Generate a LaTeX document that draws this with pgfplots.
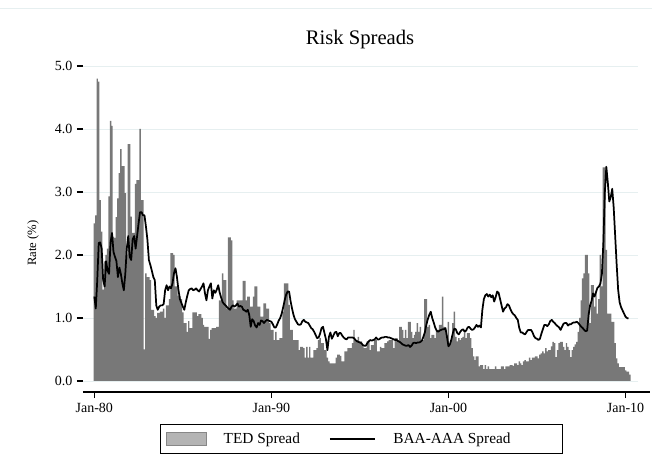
\documentclass[border=0pt]{standalone}
\usepackage{fontspec}
\setmainfont{Liberation Serif}
\usepackage{pgfplots}
\pgfplotsset{compat=1.18}
\definecolor{barcol}{RGB}{120,120,120}
\definecolor{gridcol}{RGB}{230,239,240}
\definecolor{legfill}{RGB}{180,180,180}
\definecolor{legdraw}{RGB}{135,135,135}
\begin{document}
\begin{tikzpicture}[x=1pt,y=1pt]
\useasboundingbox (0,0) rectangle (489,345);
\draw[gridcol, line width=0.6pt] (0,339) -- (489,339);
\node[font=\fontsize{15.5}{18}\selectfont] at (270,315) {Risk Spreads};
\node[rotate=90, font=\fontsize{9.5}{11}\selectfont] at (24.75,162.75) {Rate (\%)};
\begin{axis}[
  at={(62.25pt,51pt)}, anchor=south west,
  scale only axis, width=425.25pt, height=244.5pt,
  xmin=-7.66, xmax=376.6, ymin=-0.175, ymax=5,
  axis x line*=bottom, axis y line*=left,
  axis line style={-},
  y axis line style={draw=none},
  x axis line style={black, line width=0.8pt},
  tick align=outside, major tick length=4.5pt,
  tick style={black, line width=0.8pt},
  xtick={0,120,240,360}, xticklabels={Jan-80,Jan-90,Jan-00,Jan-10},
  ytick={0,1,2,3,4,5},
  yticklabel style={/pgf/number format/fixed, /pgf/number format/fixed zerofill, /pgf/number format/precision=1},
  /pgf/number format/assume math mode=true,
  ticklabel style={font=\fontsize{10.5}{12}\selectfont},
  legend style={at={(0.4912,-0.1442)}, anchor=center, draw=black, line width=0.6pt,
    inner ysep=4pt, inner xsep=4pt,
    font=\fontsize{11.5}{13}\selectfont, legend columns=2,
    /tikz/every even column/.append style={column sep=18pt}},
]
\addplot[gridcol, line width=0.7pt, forget plot] coordinates {(-7.66,0) (368.5,0)};
\addplot[gridcol, line width=0.7pt, forget plot] coordinates {(-7.66,1) (368.5,1)};
\addplot[gridcol, line width=0.7pt, forget plot] coordinates {(-7.66,2) (368.5,2)};
\addplot[gridcol, line width=0.7pt, forget plot] coordinates {(-7.66,3) (368.5,3)};
\addplot[gridcol, line width=0.7pt, forget plot] coordinates {(-7.66,4) (368.5,4)};
\addplot[gridcol, line width=0.7pt, forget plot] coordinates {(-7.66,5) (368.5,5)};
% TED spread (monthly bars)
\addplot[ybar, bar width=1, fill=barcol, draw=none,
  legend image code/.code={\draw[fill=legfill, draw=legdraw, line width=0.6pt] (0pt,-5pt) rectangle (30pt,5pt);}]
coordinates {
(0,2.5)(1,2.63)(2,4.8)(3,4.75)(4,2.87)(5,2.37)(6,1.45)(7,1.9)(8,2.0)(9,2.1)
(10,2.93)(11,4.13)(12,4.05)(13,2.29)(14,2.27)(15,2.6)(16,2.9)(17,3.3)(18,3.68)(19,3.41)
(20,3.41)(21,2.98)(22,2.0)(23,3.76)(24,3.76)(25,2.61)(26,2.35)(27,2.35)(28,3.13)(29,3.19)
(30,3.19)(31,4.0)(32,2.87)(33,2.87)(34,0.5)(35,1.71)(36,1.65)(37,1.65)(38,1.6)(39,1.13)
(40,1.13)(41,1.03)(42,1.0)(43,1.08)(44,1.08)(45,1.1)(46,1.1)(47,1.15)(48,1.0)(49,1.2)
(50,1.2)(51,1.3)(52,2.03)(53,2.03)(54,2.0)(55,1.5)(56,1.5)(57,1.35)(58,1.35)(59,1.3)
(60,1.09)(61,0.92)(62,0.92)(63,0.78)(64,0.95)(65,0.84)(66,0.84)(67,1.09)(68,1.09)(69,1.09)
(70,1.03)(71,1.06)(72,1.06)(73,1.0)(74,0.89)(75,0.86)(76,0.86)(77,0.86)(78,0.67)(79,0.81)
(80,0.84)(81,0.84)(82,0.84)(83,0.86)(84,0.86)(85,1.28)(86,1.28)(87,1.71)(88,1.6)(89,1.6)
(90,1.15)(91,2.28)(92,2.28)(93,2.23)(94,1.28)(95,1.15)(96,1.15)(97,1.28)(98,1.28)(99,1.28)
(100,1.28)(101,1.59)(102,1.59)(103,1.28)(104,1.34)(105,1.34)(106,1.18)(107,1.18)(108,1.34)(109,1.5)
(110,1.5)(111,1.18)(112,1.18)(113,1.02)(114,1.02)(115,1.23)(116,1.23)(117,1.15)(118,1.15)(119,0.92)
(120,0.81)(121,0.81)(122,0.65)(123,0.78)(124,0.65)(125,0.65)(126,0.68)(127,0.68)(128,1.1)(129,1.55)
(130,1.55)(131,1.55)(132,1.21)(133,0.81)(134,0.81)(135,0.65)(136,0.65)(137,0.65)(138,0.65)(139,0.49)
(140,0.54)(141,0.54)(142,0.52)(143,0.37)(144,0.54)(145,0.37)(146,0.54)(147,0.37)(148,0.37)(149,0.49)
(150,0.49)(151,0.52)(152,0.65)(153,0.68)(154,0.6)(155,0.6)(156,0.49)(157,0.49)(158,0.37)(159,0.31)
(160,0.28)(161,0.28)(162,0.28)(163,0.28)(164,0.37)(165,0.42)(166,0.42)(167,0.40)(168,0.31)(169,0.31)
(170,0.47)(171,0.47)(172,0.52)(173,0.52)(174,0.52)(175,0.6)(176,0.81)(177,0.65)(178,0.65)(179,0.7)
(180,0.63)(181,0.63)(182,0.57)(183,0.52)(184,0.52)(185,0.63)(186,0.63)(187,0.49)(188,0.57)(189,0.57)
(190,0.65)(191,0.65)(192,0.47)(193,0.47)(194,0.54)(195,0.52)(196,0.52)(197,0.6)(198,0.6)(199,0.63)
(200,0.65)(201,0.65)(202,0.65)(203,0.52)(204,0.68)(205,0.68)(206,0.65)(207,0.86)(208,0.86)(209,0.81)
(210,0.68)(211,0.81)(212,0.68)(213,0.94)(214,0.94)(215,0.78)(216,0.68)(217,0.73)(218,0.78)(219,0.92)
(220,0.78)(221,0.86)(222,0.65)(223,0.65)(224,1.3)(225,1.3)(226,0.86)(227,0.89)(228,0.68)(229,0.73)
(230,0.73)(231,0.68)(232,0.81)(233,0.81)(234,0.89)(235,0.89)(236,1.34)(237,0.86)(238,0.81)(239,0.73)
(240,0.94)(241,0.57)(242,0.65)(243,0.92)(244,1.1)(245,0.7)(246,0.63)(247,0.68)(248,0.65)(249,0.68)
(250,0.7)(251,0.76)(252,0.68)(253,0.76)(254,0.76)(255,0.68)(256,0.52)(257,0.39)(258,0.33)(259,0.39)
(260,0.39)(261,0.23)(262,0.25)(263,0.25)(264,0.19)(265,0.25)(266,0.19)(267,0.23)(268,0.19)(269,0.19)
(270,0.19)(271,0.19)(272,0.23)(273,0.19)(274,0.19)(275,0.19)(276,0.23)(277,0.23)(278,0.19)(279,0.23)
(280,0.23)(281,0.23)(282,0.25)(283,0.25)(284,0.24)(285,0.28)(286,0.28)(287,0.25)(288,0.31)(289,0.28)
(290,0.25)(291,0.31)(292,0.33)(293,0.31)(294,0.31)(295,0.37)(296,0.33)(297,0.37)(298,0.37)(299,0.39)
(300,0.39)(301,0.36)(302,0.42)(303,0.44)(304,0.47)(305,0.44)(306,0.52)(307,0.47)(308,0.49)(309,0.49)
(310,0.55)(311,0.62)(312,0.6)(313,0.38)(314,0.49)(315,0.6)(316,0.62)(317,0.62)(318,0.54)(319,0.49)
(320,0.6)(321,0.54)(322,0.49)(323,0.38)(324,0.49)(325,0.54)(326,0.58)(327,0.62)(328,0.78)(329,1.0)
(330,1.28)(331,1.63)(332,1.71)(333,2.0)(334,2.0)(335,1.71)(336,0.92)(337,1.52)(338,1.52)(339,1.18)
(340,1.42)(341,1.07)(342,1.3)(343,2.0)(344,1.5)(345,3.39)(346,3.39)(347,2.08)(348,1.07)(349,1.07)
(350,1.07)(351,0.94)(352,0.94)(353,0.6)(354,0.36)(355,0.28)(356,0.22)(357,0.22)(358,0.22)(359,0.22)
(360,0.17)(361,0.15)(362,0.15)(363,0.1)
};
\addlegendentry{\makebox[70pt][l]{\hspace{11pt}TED Spread}}
% BAA-AAA spread (monthly line)
\addplot[black, line width=1.3pt, line join=round, mark=none,
  legend image code/.code={\draw[black, line width=1.3pt] (0pt,0pt) -- (34pt,0pt);}]
coordinates {
(0,1.34)(1,1.15)(2,1.6)(3,2.19)(4,2.2)(5,2.1)(6,1.6)(7,1.5)(8,1.9)(9,1.75)
(10,1.7)(11,2.2)(12,2.35)(13,2.05)(14,1.97)(15,1.9)(16,1.65)(17,1.8)(18,1.7)(19,1.55)
(20,1.44)(21,1.7)(22,2.1)(23,2.3)(24,1.97)(25,1.92)(26,2.25)(27,2.3)(28,2.1)(29,2.3)
(30,2.5)(31,2.68)(32,2.68)(33,2.63)(34,2.63)(35,2.45)(36,2.24)(37,1.92)(38,1.84)(39,1.75)
(40,1.65)(41,1.6)(42,1.2)(43,1.13)(44,1.18)(45,1.2)(46,1.2)(47,1.22)(48,1.44)(49,1.52)
(50,1.44)(51,1.5)(52,1.47)(53,1.55)(54,1.71)(55,1.79)(56,1.65)(57,1.45)(58,1.3)(59,1.24)
(60,1.18)(61,1.13)(62,1.25)(63,1.35)(64,1.44)(65,1.46)(66,1.47)(67,1.44)(68,1.45)(69,1.47)
(70,1.44)(71,1.42)(72,1.46)(73,1.5)(74,1.55)(75,1.39)(76,1.28)(77,1.44)(78,1.5)(79,1.55)
(80,1.31)(81,1.44)(82,1.4)(83,1.45)(84,1.52)(85,1.4)(86,1.32)(87,1.25)(88,1.22)(89,1.2)
(90,1.17)(91,1.15)(92,1.13)(93,1.18)(94,1.2)(95,1.18)(96,1.2)(97,1.23)(98,1.18)(99,1.19)
(100,1.18)(101,1.13)(102,1.12)(103,1.1)(104,1.13)(105,1.05)(106,0.86)(107,0.98)(108,0.95)(109,0.88)
(110,0.85)(111,0.92)(112,0.89)(113,0.96)(114,0.95)(115,0.92)(116,0.95)(117,0.97)(118,0.96)(119,0.95)
(120,0.94)(121,0.9)(122,0.85)(123,0.85)(124,0.9)(125,0.96)(126,1.0)(127,1.07)(128,1.17)(129,1.28)
(130,1.37)(131,1.42)(132,1.42)(133,1.27)(134,1.15)(135,1.05)(136,0.98)(137,0.94)(138,0.9)(139,0.89)
(140,0.9)(141,0.95)(142,0.97)(143,0.94)(144,0.93)(145,0.92)(146,0.88)(147,0.84)(148,0.82)(149,0.78)
(150,0.73)(151,0.68)(152,0.69)(153,0.75)(154,0.84)(155,0.86)(156,0.76)(157,0.66)(158,0.49)(159,0.7)
(160,0.77)(161,0.67)(162,0.72)(163,0.77)(164,0.78)(165,0.71)(166,0.76)(167,0.76)(168,0.72)(169,0.69)
(170,0.67)(171,0.66)(172,0.69)(173,0.69)(174,0.69)(175,0.69)(176,0.68)(177,0.65)(178,0.63)(179,0.62)
(180,0.61)(181,0.6)(182,0.57)(183,0.56)(184,0.56)(185,0.6)(186,0.63)(187,0.65)(188,0.64)(189,0.65)
(190,0.66)(191,0.69)(192,0.66)(193,0.66)(194,0.68)(195,0.69)(196,0.69)(197,0.70)(198,0.70)(199,0.69)
(200,0.69)(201,0.68)(202,0.67)(203,0.66)(204,0.65)(205,0.65)(206,0.63)(207,0.62)(208,0.6)(209,0.58)
(210,0.57)(211,0.56)(212,0.56)(213,0.57)(214,0.54)(215,0.56)(216,0.6)(217,0.61)(218,0.6)(219,0.61)
(220,0.61)(221,0.62)(222,0.64)(223,0.7)(224,0.77)(225,0.89)(226,0.98)(227,1.05)(228,1.1)(229,1.0)
(230,0.93)(231,0.85)(232,0.8)(233,0.78)(234,0.8)(235,0.81)(236,0.82)(237,0.82)(238,0.84)(239,0.7)
(240,0.55)(241,0.58)(242,0.66)(243,0.76)(244,0.83)(245,0.82)(246,0.76)(247,0.74)(248,0.78)(249,0.81)
(250,0.82)(251,0.78)(252,0.80)(253,0.85)(254,0.86)(255,0.83)(256,0.81)(257,0.82)(258,0.85)(259,0.89)
(260,0.86)(261,0.88)(262,0.85)(263,1.13)(264,1.3)(265,1.36)(266,1.38)(267,1.34)(268,1.37)(269,1.33)
(270,1.36)(271,1.26)(272,1.33)(273,1.42)(274,1.4)(275,1.3)(276,1.2)(277,1.1)(278,1.15)(279,1.17)
(280,1.22)(281,1.2)(282,1.14)(283,1.09)(284,1.06)(285,1.04)(286,1.0)(287,0.97)(288,0.84)(289,0.77)
(290,0.77)(291,0.75)(292,0.74)(293,0.78)(294,0.81)(295,0.81)(296,0.81)(297,0.77)(298,0.71)(299,0.68)
(300,0.67)(301,0.65)(302,0.67)(303,0.75)(304,0.82)(305,0.89)(306,0.89)(307,0.87)(308,0.9)(309,0.95)
(310,0.97)(311,0.94)(312,0.92)(313,0.89)(314,0.87)(315,0.85)(316,0.81)(317,0.86)(318,0.91)(319,0.92)
(320,0.92)(321,0.88)(322,0.9)(323,0.9)(324,0.92)(325,0.93)(326,0.93)(327,0.94)(328,0.92)(329,0.89)
(330,0.86)(331,0.84)(332,0.81)(333,0.79)(334,0.8)(335,1.05)(336,1.2)(337,1.27)(338,1.39)(339,1.34)
(340,1.41)(341,1.48)(342,1.5)(343,1.55)(344,1.7)(345,2.2)(346,3.0)(347,3.4)(348,3.15)(349,2.85)
(350,2.92)(351,3.05)(352,2.75)(353,2.3)(354,1.85)(355,1.45)(356,1.25)(357,1.17)(358,1.12)(359,1.07)
(360,1.02)(361,1.0)(362,0.99)
};
\addlegendentry{\makebox[132pt][l]{\hspace{11pt}BAA-AAA Spread}}
\end{axis}
\end{tikzpicture}
\end{document}
